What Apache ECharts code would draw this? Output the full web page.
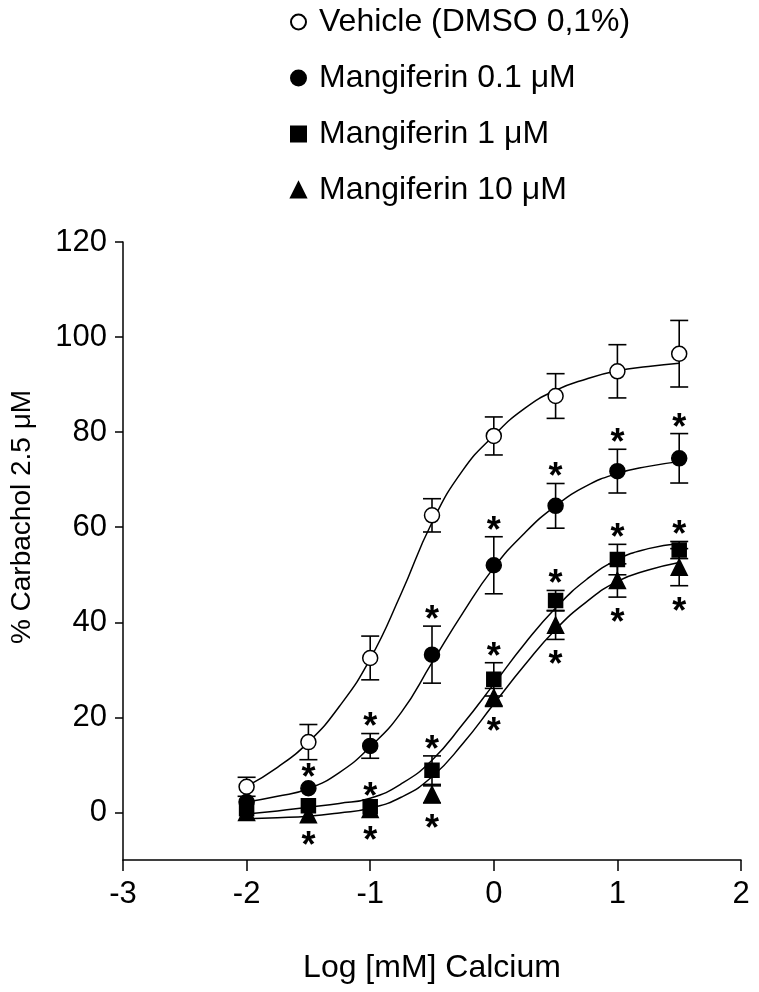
<!DOCTYPE html>
<html>
<head>
<meta charset="utf-8">
<script src="https://cdn.jsdelivr.net/npm/echarts@6/dist/echarts.min.js"></script>
<style>
html, body { margin: 0; padding: 0; background: #fff; }
#main { width: 759px; height: 992px; }
</style>
</head>
<body>
<div id="main"></div>
<script>
// log [mM] calcium
var doses = [-2, -1.5, -1, -0.5, 0, 0.5, 1, 1.5];

var vehicle = [5.4, 14.8, 32.5, 62.5, 79.2, 87.6, 92.8, 96.5];
var vehicleErr = [2.0, 3.7, 4.6, 3.5, 4.0, 4.7, 5.6, 7.0];

var mang01 = [2.2, 5.1, 14.0, 33.2, 52.0, 64.5, 71.8, 74.5];
var mang01Err = [1.0, 1.0, 2.6, 6.0, 6.0, 4.7, 4.6, 5.2];
var mang01Star = [0, 1, 1, 1, 1, 1, 1, 1];

var mang1 = [0.8, 1.4, 1.2, 8.9, 28.0, 44.6, 53.2, 55.2];
var mang1Err = [1.0, 1.0, 1.0, 3.0, 3.5, 2.1, 3.2, 1.8];
var mang1Star = [0, 0, 1, 1, 1, 1, 1, 1];

var mang10 = [0.0, -0.5, 0.6, 3.8, 24.2, 39.4, 48.8, 51.6];
var mang10Err = [1.0, 1.0, 1.0, 1.8, 1.9, 3.0, 3.5, 3.9];
var mang10Star = [0, 1, 1, 1, 1, 1, 1, 1];

// fitted curves
var curveX = [-2, -1.75, -1.5, -1.25, -1, -0.75, -0.5, -0.25, 0, 0.25, 0.5, 0.75, 1, 1.25, 1.5];
var vehicleFit = [5.5, 9.5, 14.8, 22.3, 32.3, 46.0, 61.0, 72.0, 79.3, 85.0, 88.8, 91.2, 92.9, 93.8, 94.5];
var mang01Fit = [2.2, 3.4, 5.0, 8.4, 13.8, 21.0, 31.5, 42.0, 51.5, 58.8, 64.5, 68.7, 71.3, 72.8, 73.8];
var mang1Fit = [-0.3, 0.3, 1.1, 1.9, 3.0, 6.0, 11.0, 18.6, 27.0, 35.5, 43.0, 49.0, 53.2, 55.5, 56.6];
var mang10Fit = [-1.3, -1.1, -0.8, -0.1, 0.9, 3.2, 7.5, 14.5, 22.8, 31.0, 38.5, 44.3, 48.6, 51.0, 52.6];

var yTicks = [0, 20, 40, 60, 80, 100, 120];

var names = ["Vehicle (DMSO 0,1%)", "Mangiferin 0.1 \u03bcM", "Mangiferin 1 \u03bcM", "Mangiferin 10 \u03bcM"];
var FONT = "Liberation Sans";

function pairs(xs, ys) {
  return xs.map(function (x, i) { return [x, ys[i]]; });
}

// error bars (SEM) + significance asterisks
function errSeries(vals, errs, stars, dir) {
  return {
    type: "custom",
    z: 1,
    silent: true,
    data: doses.map(function (x, i) { return [x, vals[i], errs[i], stars ? stars[i] : 0]; }),
    renderItem: function (params, api) {
      var x = api.value(0), y = api.value(1), e = api.value(2), s = api.value(3);
      var c = api.coord([x, y]);
      var hi = api.coord([x, y + e]);
      var lo = api.coord([x, y - e]);
      var r = 8, half = 9;
      var st = { stroke: "#000", lineWidth: 1.6 };
      var kids = [];
      var top = c[1] - r, bot = c[1] + r;
      var gapUp = 11, gapDown = 14;
      if (c[1] - hi[1] > r) {
        kids.push({ type: "line", shape: { x1: c[0], y1: hi[1], x2: c[0], y2: lo[1] }, style: st });
        kids.push({ type: "line", shape: { x1: c[0] - half, y1: hi[1], x2: c[0] + half, y2: hi[1] }, style: st });
        kids.push({ type: "line", shape: { x1: c[0] - half, y1: lo[1], x2: c[0] + half, y2: lo[1] }, style: st });
        top = hi[1];
        bot = lo[1];
        gapUp = 15;
        gapDown = 17;
      }
      if (s) {
        var ty = dir === "up" ? top - gapUp : bot + gapDown;
        kids.push({
          type: "text",
          style: {
            text: "*", x: c[0], y: ty + 10,
            align: "center", verticalAlign: "middle",
            font: "bold 36px '" + FONT + "'", fill: "#000"
          }
        });
      }
      return { type: "group", children: kids };
    }
  };
}

function fitSeries(vals) {
  return {
    type: "line",
    z: 2,
    silent: true,
    smooth: true,
    showSymbol: false,
    data: pairs(curveX, vals),
    lineStyle: { color: "#000", width: 1.5 }
  };
}

function pointSeries(name, vals, symbol, size, fill) {
  return {
    name: name,
    type: "scatter",
    z: 3,
    symbol: symbol,
    symbolSize: size,
    data: pairs(doses, vals),
    itemStyle: { color: fill, borderColor: "#000", borderWidth: 1.5, opacity: 1 }
  };
}

var myChart = echarts.init(document.getElementById("main"));

myChart.setOption({
  backgroundColor: "#fff",
  animation: false,
  textStyle: { fontFamily: FONT },
  grid: { left: 123, right: 18, top: 242, bottom: 132, containLabel: false },
  legend: {
    data: names,
    orient: "vertical",
    left: 285,
    top: 1,
    itemWidth: 15,
    itemHeight: 15,
    itemGap: 24,
    selectedMode: false,
    textStyle: { fontSize: 32, color: "#000", fontFamily: FONT, padding: [0, 0, 0, 8] }
  },
  graphic: [{
    type: "text",
    x: 22,
    y: 517,
    rotation: Math.PI / 2,
    style: {
      text: "% Carbachol 2.5 \u03bcM",
      align: "center",
      verticalAlign: "middle",
      font: "28px '" + FONT + "'",
      fill: "#000"
    }
  }],
  xAxis: {
    type: "value",
    min: -3,
    max: 2,
    interval: 1,
    name: "Log [mM] Calcium",
    nameLocation: "middle",
    nameGap: 92,
    nameTextStyle: { fontSize: 32, color: "#000" },
    axisLine: { onZero: false, lineStyle: { color: "#000", width: 1.5 } },
    axisTick: { length: 11, lineStyle: { color: "#000", width: 1.5 } },
    axisLabel: { fontSize: 31, color: "#000", margin: 19 },
    splitLine: { show: false }
  },
  yAxis: {
    type: "value",
    min: -10,
    max: 120,
    interval: 10,
    axisLine: { show: true, onZero: false, lineStyle: { color: "#000", width: 1.5 } },
    axisTick: { show: true, length: 8, customValues: yTicks, lineStyle: { color: "#000", width: 1.5 } },
    axisLabel: { fontSize: 31, color: "#000", margin: 16, customValues: yTicks },
    splitLine: { show: false }
  },
  series: [
    errSeries(vehicle, vehicleErr, null, "up"),
    errSeries(mang01, mang01Err, mang01Star, "up"),
    errSeries(mang1, mang1Err, mang1Star, "up"),
    errSeries(mang10, mang10Err, mang10Star, "down"),
    fitSeries(vehicleFit),
    fitSeries(mang01Fit),
    fitSeries(mang1Fit),
    fitSeries(mang10Fit),
    pointSeries(names[0], vehicle, "circle", 15, "#fff"),
    pointSeries(names[1], mang01, "circle", 15, "#000"),
    pointSeries(names[2], mang1, "rect", 14, "#000"),
    pointSeries(names[3], mang10, "triangle", 16, "#000")
  ]
});
</script>
</body>
</html>
